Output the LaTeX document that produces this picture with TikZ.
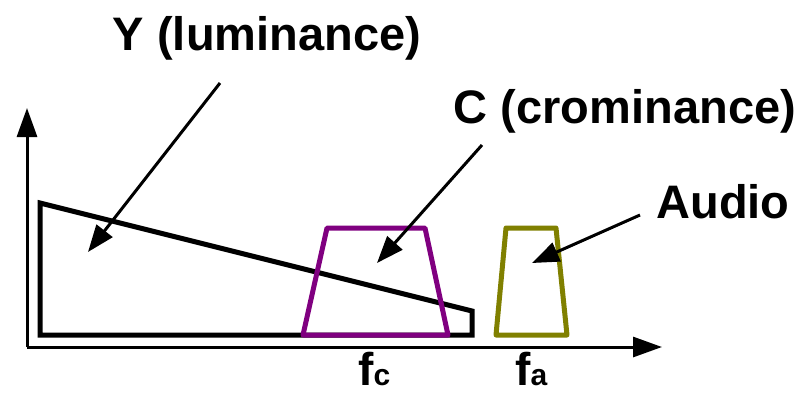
\documentclass[tikz,border=0pt]{standalone}
\usepackage{fontspec}
\setmainfont{Liberation Sans}
\usetikzlibrary{arrows.meta}
\definecolor{cpurple}{RGB}{128,0,128}
\definecolor{colive}{RGB}{128,128,0}
\tikzset{
  axisline/.style={line width=3pt,-{Triangle[length=29pt,width=20pt]}},
  pointer/.style={line width=3pt,-{Triangle[length=27pt,width=20pt]}},
  lumashape/.style={line width=5pt,black,line join=miter},
  chromashape/.style={line width=5pt,cpurple,line join=round},
  audioshape/.style={line width=5pt,colive,line join=round},
  bigtext/.style={font=\fontsize{47}{47}\selectfont\bfseries,inner sep=0pt,anchor=base},
  freqtext/.style={font=\fontsize{46}{46}\selectfont\bfseries,inner sep=0pt,anchor=base west,text depth=0pt},
}
\newcommand{\subsz}{\fontsize{30}{30}\selectfont}
\begin{document}
\begin{tikzpicture}[x=1pt,y=-1pt]
\useasboundingbox (0,0) rectangle (806,392);
% axes
\coordinate (origin) at (27,347);
\coordinate (ytip) at (27,108);
\coordinate (xtip) at (662,347);
\draw[axisline] (origin) -- (ytip);
\draw[axisline] (origin) -- (xtip);
% luminance shape
\draw[lumashape] (40,203) -- (40,335) -- (472,335) -- (472,311) -- cycle;
% chrominance trapezoid
\draw[chromashape] (303,335) -- (327,228) -- (425,228) -- (448,335) -- cycle;
% audio trapezoid
\draw[audioshape] (496,335) -- (506,228) -- (556,228) -- (567,335) -- cycle;
% labels
\node[bigtext] (ylabel) at (267,50) {Y (luminance)};
\node[bigtext] (clabel) at (625,123) {C (crominance)};
\node[bigtext] (alabel) at (723,218) {Audio};
\node[freqtext] (fc) at (358,385) {f{\subsz c}};
\node[freqtext] (fa) at (515,385) {f{\subsz a}};
% pointers
\coordinate (ystart) at (220,83);
\coordinate (yend) at (88,252);
\coordinate (cstart) at (482,145);
\coordinate (cend) at (377,263);
\coordinate (astart) at (640,215);
\coordinate (aend) at (532,263);
\draw[pointer] (ystart) -- (yend);
\draw[pointer] (cstart) -- (cend);
\draw[pointer] (astart) -- (aend);
\end{tikzpicture}
\end{document}
